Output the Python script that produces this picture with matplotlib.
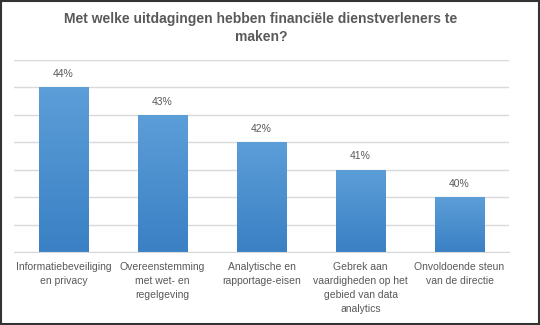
import matplotlib
matplotlib.use("Agg")
import matplotlib.pyplot as plt
import numpy as np
from matplotlib.patches import Rectangle
from matplotlib.colors import LinearSegmentedColormap

categories = [
    "Informatiebeveiliging\nen privacy",
    "Overeenstemming\nmet wet- en\nregelgeving",
    "Analytische en\nrapportage-eisen",
    "Gebrek aan\nvaardigheden op het\ngebied van data\nanalytics",
    "Onvoldoende steun\nvan de directie",
]
values = [44, 43, 42, 41, 40]
value_labels = ["44%", "43%", "42%", "41%", "40%"]
title = "Met welke uitdagingen hebben financiële dienstverleners te\nmaken?"

plt.rcParams['font.family'] = ['Liberation Sans', 'DejaVu Sans']

fig = plt.figure(figsize=(5.4, 3.25), dpi=100)
ax = fig.add_axes([14/540, 73/325, 495/540, 192/325])

x = np.arange(len(categories))
bars = ax.bar(x, values, width=0.5, color='#4a8fd0', zorder=2)

ax.set_xlim(-0.5, len(categories) - 0.5)
ax.set_ylim(38, 45)
ax.set_yticks(np.arange(38, 46, 1))
ax.yaxis.grid(True, color='#d9d9d9', linewidth=1, zorder=0)
ax.set_axisbelow(True)
ax.tick_params(axis='y', length=0, labelleft=False)
ax.tick_params(axis='x', length=0, pad=7)
ax.set_xticks(x)
ax.set_xticklabels(categories, fontsize=7.5, color='#595959', linespacing=1.5, va='top')
for s in ['top', 'right', 'left']:
    ax.spines[s].set_visible(False)
ax.spines['bottom'].set_color('#d9d9d9')

# gradient fill
cmap = LinearSegmentedColormap.from_list('g', ['#3a80c4', '#5c9ed8'])
grad = np.linspace(0, 1, 256).reshape(-1, 1)
for b in bars:
    b.set_facecolor('none')
    x0, w, h = b.get_x(), b.get_width(), b.get_height()
    y0 = b.get_y()
    im = ax.imshow(grad, cmap=cmap, aspect='auto', origin='lower',
                   extent=[x0, x0 + w, ax.get_ylim()[0], y0 + h], zorder=2)
    im.set_clip_path(b)

for xi, v, lab in zip(x, values, value_labels):
    ax.annotate(lab, (xi, v), xytext=(0, 6), textcoords='offset points',
                ha='center', va='bottom', fontsize=7.5, color='#595959')

ax.set_ylim(38, 45)
ax.set_xlim(-0.5, len(categories) - 0.5)

fig.text(261/540, 1 - 28/325, title, ha='center', va='center', fontsize=10,
         fontweight='bold', color='#595959', linespacing=1.4)

fig.patches.append(Rectangle((0.002, 0.003), 0.996, 0.994, transform=fig.transFigure,
                             fill=False, edgecolor='#333333', linewidth=1.5))

fig.savefig('out.png', dpi=100)
